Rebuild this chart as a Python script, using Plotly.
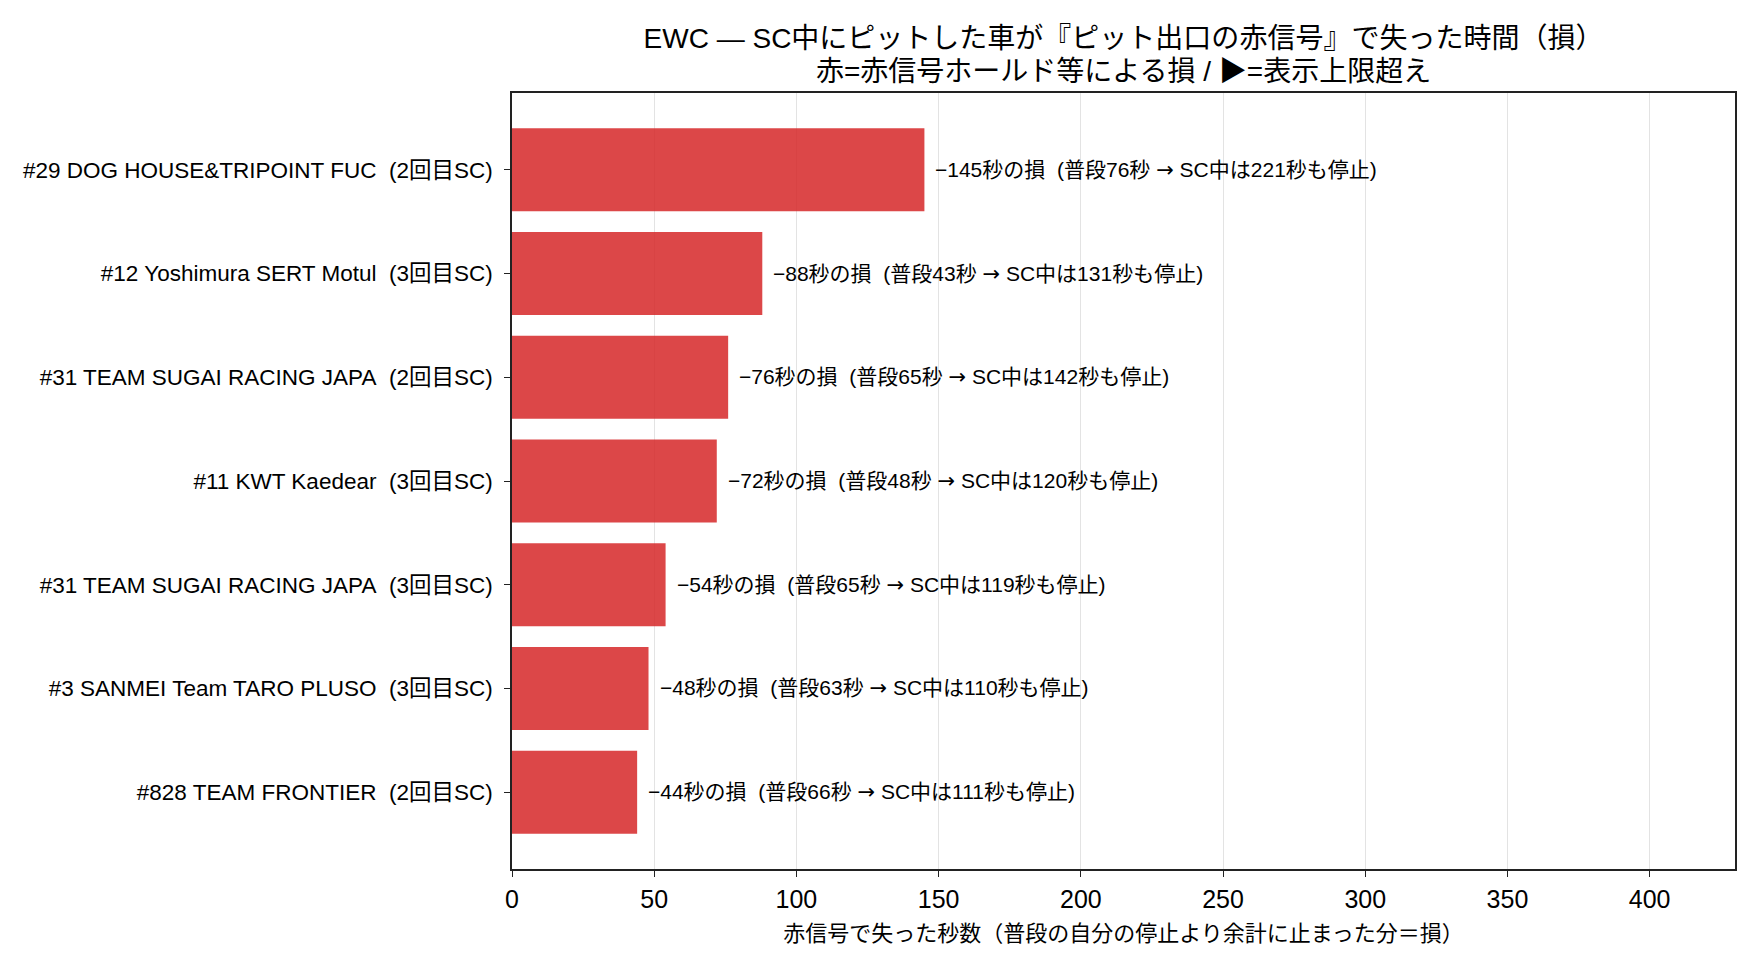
import plotly.graph_objects as go

# data (top to bottom)
teams = [
    "#29 DOG HOUSE&TRIPOINT FUC\u00a0\u00a0(2回目SC)",
    "#12 Yoshimura SERT Motul\u00a0\u00a0(3回目SC)",
    "#31 TEAM SUGAI RACING JAPA\u00a0\u00a0(2回目SC)",
    "#11 KWT Kaedear\u00a0\u00a0(3回目SC)",
    "#31 TEAM SUGAI RACING JAPA\u00a0\u00a0(3回目SC)",
    "#3 SANMEI Team TARO PLUSO\u00a0\u00a0(3回目SC)",
    "#828 TEAM FRONTIER\u00a0\u00a0(2回目SC)",
]
loss_sec = [145, 88, 76, 72, 54, 48, 44]
normal_sec = [76, 43, 65, 48, 65, 63, 66]
sc_sec = [221, 131, 142, 120, 119, 110, 111]
x_ticks = [0, 50, 100, 150, 200, 250, 300, 350, 400]

title_line1 = "EWC — SC中にピットした車が『ピット出口の赤信号』で失った時間（損）"
title_line2 = "赤=赤信号ホールド等による損 / ▶=表示上限超え"

FONT = "Liberation Sans, Noto Sans CJK JP, sans-serif"
ARROW = '<span style="font-family:DejaVu Sans">→</span>'

fig = go.Figure()
fig.add_trace(go.Bar(
    x=loss_sec, y=teams, orientation="h", width=0.8,
    marker=dict(color="rgba(214,39,40,0.85)", line=dict(width=0)),
    hoverinfo="skip",
))

for t, l, n, s in zip(teams, loss_sec, normal_sec, sc_sec):
    fig.add_annotation(
        x=l, y=t, xref="x", yref="y",
        text=f"\u2212{l}秒の損\u00a0\u00a0(普段{n}秒 {ARROW} SC中は{s}秒も停止)",
        showarrow=False, xanchor="left", yanchor="middle", xshift=9,
        font=dict(family=FONT, size=21, color="black"),
    )

# second title line, just above the plot frame
fig.add_annotation(
    x=0.5, y=1, xref="paper", yref="paper", xanchor="center", yanchor="middle",
    yshift=22, text=title_line2, showarrow=False,
    font=dict(family=FONT, size=28, color="black"),
)

# the page body adds an 8px offset, so margins are shifted by 8px
fig.update_layout(
    width=1760, height=966,
    margin=dict(l=504, r=33, t=85, b=105),
    paper_bgcolor="white", plot_bgcolor="white",
    showlegend=False,
    font=dict(family=FONT, color="black"),
    title=dict(
        text=title_line1,
        x=0.5, xref="paper", xanchor="center",
        y=1 - 30 / 966, yref="container", yanchor="middle",
        font=dict(family=FONT, size=28, color="black"),
    ),
)

fig.update_xaxes(
    range=[0, 430], tickvals=x_ticks,
    showgrid=True, gridcolor="#e3e3e3", gridwidth=1,
    zeroline=False,
    showline=True, linecolor="#222222", linewidth=1.6, mirror=True,
    ticks="outside", ticklen=6, tickcolor="#222222", tickwidth=1.4,
    tickfont=dict(family=FONT, size=25),
    ticklabelstandoff=1,
    title=dict(text="赤信号で失った秒数（普段の自分の停止より余計に止まった分＝損）",
               font=dict(family=FONT, size=22), standoff=14),
)
fig.update_yaxes(
    type="category", range=[6.74, -0.74],
    showgrid=False, zeroline=False,
    showline=True, linecolor="#222222", linewidth=1.6, mirror=True,
    ticks="outside", ticklen=6, tickcolor="#222222", tickwidth=1.4,
    tickfont=dict(family=FONT, size=22.5),
    ticklabelstandoff=7,
)

fig.write_html("out.html")
